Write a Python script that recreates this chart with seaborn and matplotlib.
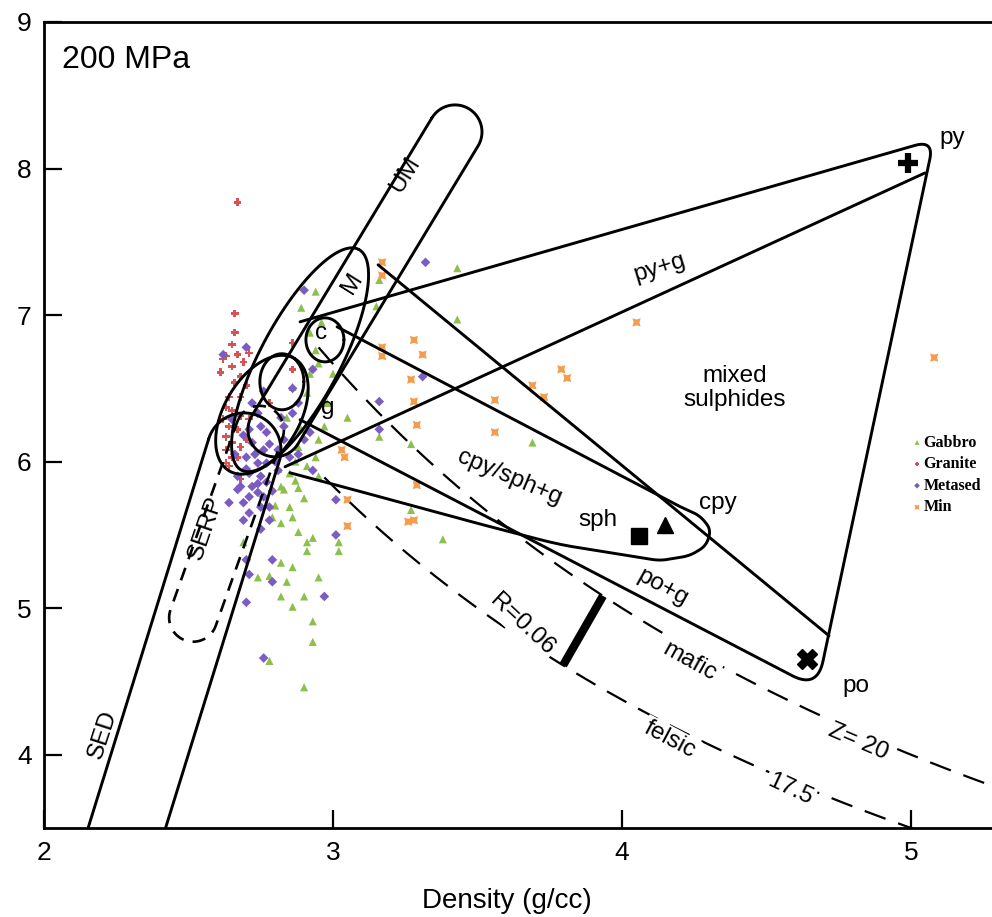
import numpy as np
import pandas as pd
import matplotlib
matplotlib.use("Agg")
import matplotlib.pyplot as plt
import seaborn as sns

sns.set_theme(style="white")
plt.rcParams["font.family"] = ["Liberation Sans", "DejaVu Sans"]
plt.rcParams.update({"text.color": "black", "axes.labelcolor": "black",
                     "xtick.color": "black", "ytick.color": "black"})

# ---------------- sample measurements (density g/cc, Vp km/s) ----------------
gabbro_density = [2.82, 2.88, 2.82, 2.86, 2.88, 2.91, 2.93, 2.91, 3.02, 3.02, 2.69, 2.82,
                  2.86, 2.74, 2.78, 2.84, 2.95, 2.82, 2.90, 2.86, 2.93, 2.93, 2.78, 2.90,
                  3.43, 3.43, 3.27, 3.69, 3.27, 3.38, 2.94, 3.16, 3.15, 2.86, 2.91, 2.94,
                  2.95, 2.89, 2.85, 2.83, 2.85, 2.87, 2.91, 2.94, 2.95, 2.79, 3.16, 2.97,
                  2.92, 3.00, 2.98, 2.87, 2.80, 2.90, 2.95, 3.05, 2.84, 2.81, 2.88, 2.92,
                  2.96, 2.89]
gabbro_vp = [5.83, 5.82, 5.58, 5.62, 5.52, 5.45, 5.48, 5.39, 5.45, 5.39, 5.45, 5.31,
             5.28, 5.21, 5.22, 5.18, 5.21, 5.08, 5.08, 5.01, 4.91, 4.77, 4.64, 4.46,
             7.32, 6.97, 6.12, 6.13, 5.67, 5.47, 7.16, 7.24, 7.06, 6.51, 6.47, 6.76,
             6.67, 6.22, 5.92, 5.81, 5.69, 5.87, 5.97, 6.03, 6.15, 5.62, 6.17, 6.24,
             6.88, 6.60, 6.40, 6.00, 5.70, 5.75, 5.90, 6.30, 6.30, 5.95, 6.10, 6.60,
             6.95, 7.05]

granite_density = [2.67, 2.66, 2.65, 2.67, 2.63, 2.69, 2.71, 2.65, 2.68, 2.66, 2.64, 2.68,
                   2.63, 2.65, 2.68, 2.62, 2.64, 2.67, 2.63, 2.65, 2.68, 2.63, 2.65, 2.67,
                   2.64, 2.63, 2.71, 2.70, 2.86, 2.86, 2.78, 2.61, 2.70, 2.68, 2.62, 2.66]
granite_vp = [7.77, 7.01, 6.80, 6.73, 6.72, 6.68, 6.74, 6.65, 6.58, 6.54, 6.44, 6.44,
              6.37, 6.35, 6.31, 6.29, 6.24, 6.22, 6.17, 6.13, 6.10, 6.08, 6.03, 6.03,
              5.97, 5.99, 6.29, 6.15, 6.63, 6.81, 6.40, 6.61, 6.52, 5.88, 6.70, 6.88]

metased_density = [2.62, 2.70, 2.65, 2.71, 2.74, 2.75, 2.77, 2.72, 2.76, 2.70, 2.74, 2.77,
                   2.81, 2.71, 2.75, 2.67, 2.68, 2.72, 2.77, 2.71, 2.76, 2.69, 2.75, 2.78,
                   2.71, 2.81, 2.83, 2.85, 2.90, 2.93, 2.93, 2.86, 2.83, 2.90, 3.32, 3.16,
                   3.16, 3.31, 2.67, 2.74, 2.78, 2.75, 2.70, 2.71, 2.79, 2.79, 2.70, 2.97,
                   3.01, 3.01, 2.76, 2.70, 2.73, 2.69, 2.78, 2.80, 2.74, 2.66, 2.72, 2.79,
                   2.69, 2.64, 2.82, 2.86, 2.88, 2.76, 2.88, 2.92]
metased_vp = [6.73, 6.78, 6.29, 6.22, 6.33, 6.24, 6.20, 6.13, 6.08, 6.03, 5.99, 5.99,
              5.94, 5.92, 5.90, 5.90, 5.83, 5.83, 5.86, 5.76, 5.76, 5.72, 5.69, 5.69,
              5.65, 6.08, 6.15, 6.03, 6.15, 5.94, 6.63, 6.33, 6.24, 7.17, 7.36, 6.41,
              6.22, 6.58, 5.81, 5.79, 5.60, 5.54, 5.33, 5.23, 5.33, 5.18, 5.04, 5.08,
              5.50, 5.74, 4.66, 5.95, 6.05, 6.18, 6.12, 6.00, 5.85, 6.05, 6.40, 5.80,
              5.60, 5.72, 6.30, 6.50, 6.40, 6.48, 6.05, 6.20]

min_density = [3.17, 3.17, 3.28, 3.31, 3.17, 3.17, 3.27, 3.28, 3.29, 3.56, 3.56, 3.79,
               3.81, 3.69, 3.73, 3.29, 3.55, 3.64, 3.26, 3.28, 3.03, 3.04, 3.05, 4.05,
               5.08, 3.05]
min_vp = [7.36, 7.27, 6.83, 6.73, 6.78, 6.72, 6.56, 6.41, 6.25, 6.42, 6.20, 6.63,
          6.57, 6.52, 6.44, 5.84, 5.92, 5.81, 5.59, 5.60, 6.08, 6.03, 5.56, 6.95,
          6.71, 5.74]

rock_order = ["Gabbro", "Granite", "Metased", "Min"]

# end-member sulphides
sulphide_names = ["py", "cpy", "sph", "po"]
sulphide_density = [4.99, 4.15, 4.06, 4.64]
sulphide_vp = [8.04, 5.57, 5.49, 4.65]

# constant acoustic impedance curves and the reflection-coefficient bar
impedance_levels = [20.0, 17.5]
impedance_start = [2.95, 2.97]
bar_density = [3.934, 3.796]

# ---------------- field outlines (density, Vp); widths in pixels ----------------
sed_axis = [(2.208, 3.00), (2.692, 6.08)]
serp_axis = [(2.516, 4.935), (2.747, 6.217)]
um_axis = [(2.799, 6.217), (3.422, 8.250)]
felsic_field = (2.754, 6.320)
small_field = (2.823, 6.545)
c_field = (2.972, 6.831)
m_field = (2.886, 6.695)

outer_band = [(2.886, 6.954), (5.079, 8.195), (4.675, 4.451), (2.886, 6.286)]
outer_radii = [0, 20, 28, 0]
py_lower = [(2.834, 5.965), (5.048, 7.970)]
po_upper = [(3.156, 7.343), (4.716, 4.812)]
cpy_sph_loop = [(3.014, 6.920), (4.201, 5.692), (4.270, 5.631), (4.308, 5.536),
                (4.291, 5.426), (4.235, 5.358), (4.131, 5.324), (3.785, 5.433),
                (3.543, 5.556), (3.163, 5.760), (2.851, 5.924)]
loop_radii = [0, 8, 8, 8, 8, 8, 8, 20, 20, 20, 0]

# ---------------- figure ----------------
fig = plt.figure(figsize=(9.92, 9.17), dpi=100)
ax = fig.add_axes([44 / 992, 89 / 917, 948 / 992, 806 / 917])
ax.set_xlim(2, 5.28)
ax.set_ylim(3.5, 9.0)

frames = []
for name, xs, ys in [("Gabbro", gabbro_density, gabbro_vp),
                     ("Granite", granite_density, granite_vp),
                     ("Metased", metased_density, metased_vp),
                     ("Min", min_density, min_vp)]:
    frames.append(pd.DataFrame({"density": xs, "vp": ys, "rock": name}))
df = pd.concat(frames, ignore_index=True)

palette = {"Gabbro": "#8cc04c", "Granite": "#d65454", "Metased": "#7a5cc2", "Min": "#f59b4c"}
markers = {"Gabbro": "^", "Granite": "P", "Metased": "D", "Min": (4, 1, 45)}
sizes = {"Gabbro": 34, "Granite": 30, "Metased": 24, "Min": 70}
for rock in rock_order:
    sns.scatterplot(data=df[df["rock"] == rock], x="density", y="vp", ax=ax,
                    marker=markers[rock], color=palette[rock], s=sizes[rock],
                    edgecolor="none", linewidth=0, label=rock, zorder=2)

# ---------- helpers that build outlines in pixel space ----------
to_px = ax.transData.transform
to_data = ax.transData.inverted().transform


def draw(pts_px, **kw):
    d = to_data(np.asarray(pts_px))
    style = dict(color="black", lw=2.1, zorder=3, solid_capstyle="round",
                 solid_joinstyle="round")
    style.update(kw)
    ax.plot(d[:, 0], d[:, 1], **style)


def capsule(p0, p1, r, **kw):
    a, b = to_px(np.array([p0, p1]))
    u = (b - a) / np.hypot(*(b - a))
    th = np.arctan2(u[0], -u[1])  # angle of the left normal
    t1 = np.linspace(th, th - np.pi, 40)
    t2 = np.linspace(th - np.pi, th - 2 * np.pi, 40)
    arc1 = b + r * np.column_stack([np.cos(t1), np.sin(t1)])
    arc2 = a + r * np.column_stack([np.cos(t2), np.sin(t2)])
    pts = np.vstack([arc1, arc2, arc1[:1]])
    draw(pts, **kw)


def ellipse(c, a, b, ang, **kw):
    cx, cy = to_px(np.array([c]))[0]
    t = np.linspace(0, 2 * np.pi, 120)
    ph = np.radians(ang)
    x = a * np.cos(t)
    y = b * np.sin(t)
    pts = np.column_stack([cx + x * np.cos(ph) - y * np.sin(ph),
                           cy + x * np.sin(ph) + y * np.cos(ph)])
    draw(pts, **kw)


def rounded(points, radii, **kw):
    p = to_px(np.array(points))
    out = [p[0]]
    for i in range(1, len(p) - 1):
        v = p[i]
        lin = np.hypot(*(v - p[i - 1]))
        lout = np.hypot(*(p[i + 1] - v))
        r = min(radii[i], 0.45 * lin, 0.45 * lout)
        uin = (v - p[i - 1]) / lin
        uout = (p[i + 1] - v) / lout
        s, e = v - r * uin, v + r * uout
        t = np.linspace(0, 1, 20)[:, None]
        out.extend((1 - t) ** 2 * s + 2 * (1 - t) * t * v + t ** 2 * e)
    out.append(p[-1])
    draw(np.array(out), **kw)


# host rock fields
capsule(*sed_axis, 37)
capsule(*serp_axis, 24, ls=(0, (5, 3.5)), lw=1.9)
capsule(*um_axis, 27)
ellipse(felsic_field, 65, 38, 60)
ellipse(small_field, 22, 28, 0)
ellipse(c_field, 19, 22, 0)
ellipse(m_field, 125, 40, 62)

# sulphide mixing bands
rounded(outer_band, outer_radii)
rounded(cpy_sph_loop, loop_radii)
for seg in (py_lower, po_upper):
    draw(to_px(np.array(seg)))

# impedance curves
for z, r0 in zip(impedance_levels, impedance_start):
    rho = np.linspace(r0, 5.35, 300)
    ax.plot(rho, z / rho, color="black", lw=1.6, dashes=(10, 6), zorder=3)

bar_vp = [impedance_levels[0] / bar_density[0], impedance_levels[1] / bar_density[1]]
ax.plot(bar_density, bar_vp, color="black", lw=6, solid_capstyle="butt", zorder=3)

# end members
mk = {"py": dict(marker="+", ms=15, mew=4.5), "cpy": dict(marker="^", ms=12),
      "sph": dict(marker="s", ms=11), "po": dict(marker="X", ms=14)}
for n, x, y in zip(sulphide_names, sulphide_density, sulphide_vp):
    ax.plot(x, y, color="black", ls="none", zorder=4, **mk[n])

# ---------------- labels ----------------
fs = 17.5
mask = dict(boxstyle="square,pad=0.1", fc="white", ec="none")
labels = [
    ("UM", 3.249, 7.957, 58, None), ("M", 3.066, 7.220, 58, None),
    ("c", 2.958, 6.879, 0, None), ("g", 2.983, 6.368, 0, None),
    ("SERP", 2.561, 5.549, 71, None), ("SED", 2.204, 4.138, 72, None),
    ("py", 5.142, 8.209, 0, None), ("py+g", 4.131, 7.322, 17, None),
    ("mixed\nsulphides", 4.391, 6.504, 0, None),
    ("cpy/sph+g", 3.612, 5.890, -23, mask), ("cpy", 4.332, 5.719, 0, None),
    ("sph", 3.917, 5.604, 0, None), ("po+g", 4.142, 5.140, -29, None),
    ("po", 4.810, 4.471, 0, None), ("R=0.06", 3.654, 4.887, -43, mask),
    ("mafic", 4.235, 4.635, -29, mask), ("Z= 20", 4.817, 4.089, -23, mask),
    ("felsic", 4.166, 4.100, -28, mask), ("17.5", 4.581, 3.763, -25, mask),
]
for txt, x, y, rot, bb in labels:
    ax.text(x, y, txt, fontsize=fs, rotation=rot, rotation_mode="anchor",
            ha="center", va="center", zorder=5, bbox=bb, linespacing=1.1)

ax.text(2.062, 8.74, "200 MPa", fontsize=23, ha="left", va="center")

# ---------------- axes styling ----------------
ax.set_xticks([2, 3, 4, 5])
ax.set_yticks([4, 5, 6, 7, 8, 9])
ax.tick_params(direction="in", length=13, width=1.6, labelsize=19, pad=9,
               bottom=True, left=True, top=False, right=False)
ax.set_xlabel("Density (g/cc)", fontsize=20)
ax.xaxis.set_label_coords((507 - 44) / 948, -0.075)
ax.set_ylabel("")
for side in ("left", "top", "bottom"):
    ax.spines[side].set_color("black")
    ax.spines[side].set_linewidth(2)
ax.spines["right"].set_visible(False)

handles, labs = ax.get_legend_handles_labels()
leg = ax.legend(handles, labs, loc="upper left", bbox_to_anchor=(0.915, 0.488),
                frameon=False, handletextpad=0.05, handlelength=0.7,
                labelspacing=0.35, borderaxespad=0, borderpad=0, markerscale=0.6,
                prop={"family": "Liberation Serif", "weight": "bold", "size": 11.5})

fig.savefig("out.png", dpi=100)
